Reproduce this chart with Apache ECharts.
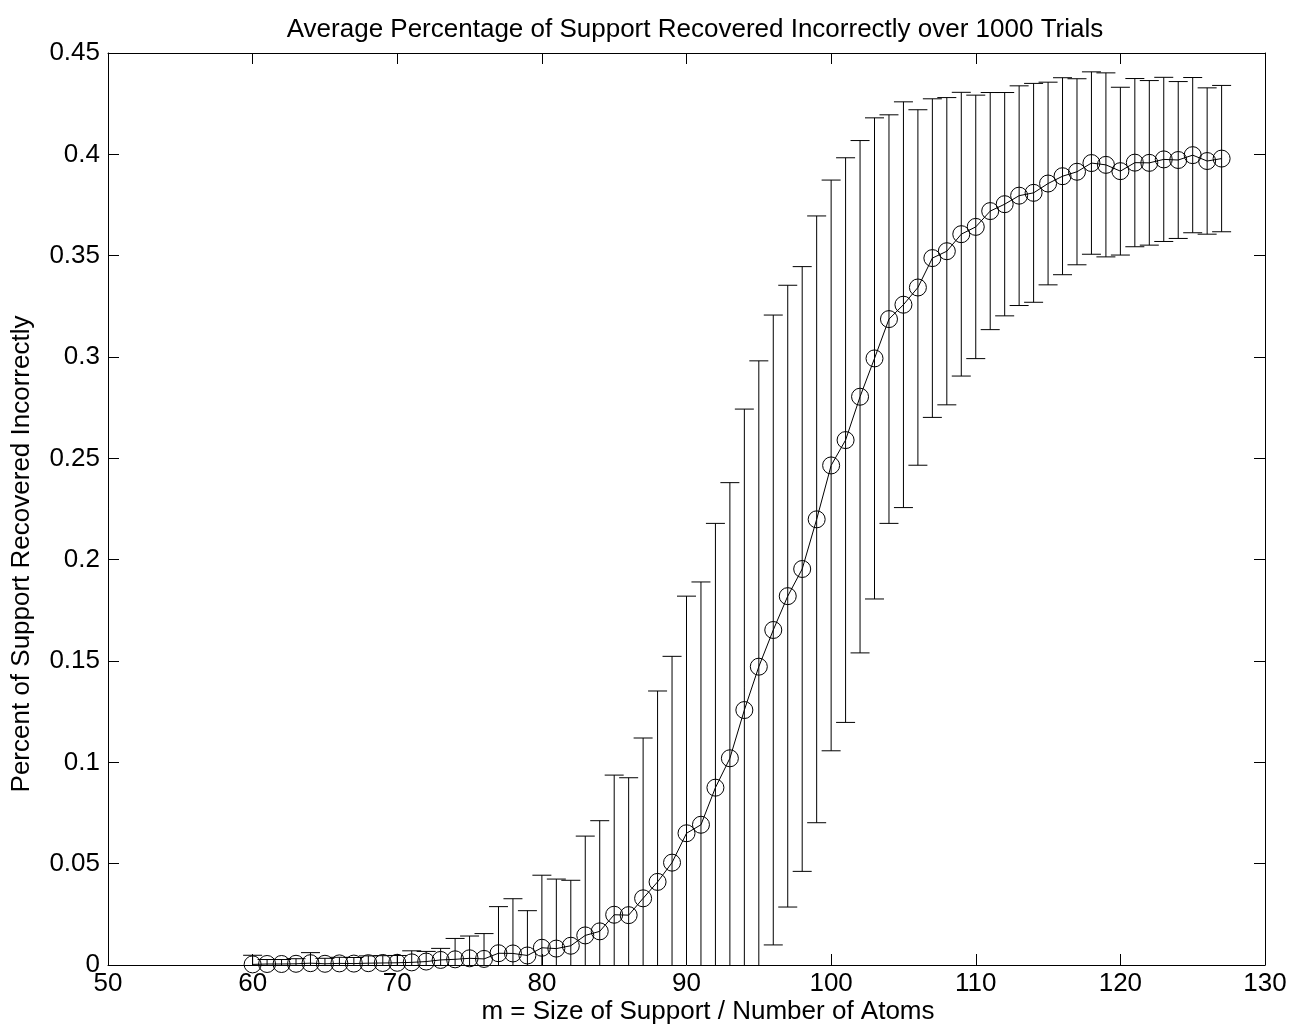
<!DOCTYPE html>
<html>
<head>
<meta charset="utf-8">
<script src="https://cdn.jsdelivr.net/npm/echarts@6/dist/echarts.min.js"></script>
<style>
html,body{margin:0;padding:0;background:#fff;}
#chart{width:1291px;height:1034px;}
</style>
</head>
<body>
<div id="chart"></div>
<script>
const titleText = 'Average Percentage of Support Recovered Incorrectly over 1000 Trials';
const xAxisName = 'm = Size of Support / Number of Atoms';
const yAxisName = 'Percent of Support Recovered Incorrectly';

const xValues = [60,61,62,63,64,65,66,67,68,69,70,71,72,73,74,75,76,77,78,79,
  80,81,82,83,84,85,86,87,88,89,90,91,92,93,94,95,96,97,98,99,
  100,101,102,103,104,105,106,107,108,109,110,111,112,113,114,115,116,117,118,119,
  120,121,122,123,124,125,126,127];

const meanValues = [0.0003,0.0005,0.0005,0.0006,0.0009,0.0006,0.0008,0.0007,0.0009,0.0010,
  0.0011,0.0013,0.0017,0.0025,0.0028,0.0033,0.0030,0.0058,0.0057,0.0047,
  0.0085,0.0081,0.0095,0.0146,0.0166,0.0248,0.0246,0.0329,0.0410,0.0505,
  0.0650,0.0692,0.0875,0.1020,0.1258,0.1472,0.1653,0.1820,0.1954,0.2199,
  0.2465,0.2590,0.2804,0.2993,0.3187,0.3258,0.3343,0.3488,0.3522,0.3606,
  0.3642,0.3720,0.3754,0.3796,0.3810,0.3856,0.3892,0.3914,0.3957,0.3948,
  0.3917,0.3959,0.3958,0.3975,0.3972,0.3996,0.3967,0.3979];

const errValues = [0.0045,0.0022,0.0022,0.0025,0.0052,0.0027,0.0030,0.0030,0.0036,0.0036,
  0.0036,0.0057,0.0050,0.0057,0.0103,0.0110,0.0125,0.0230,0.0270,0.0221,
  0.0358,0.0343,0.0323,0.0490,0.0546,0.0689,0.0678,0.0791,0.0942,0.1018,
  0.1170,0.1198,0.1304,0.1360,0.1485,0.1509,0.1554,0.1534,0.1492,0.1497,
  0.1408,0.1393,0.1264,0.1187,0.1008,0.1001,0.0877,0.0786,0.0758,0.0700,
  0.0650,0.0585,0.0551,0.0542,0.0540,0.0500,0.0486,0.0459,0.0450,0.0454,
  0.0414,0.0415,0.0406,0.0405,0.0387,0.0383,0.0361,0.0361];

const xMin = 50, xMax = 130, xStep = 10;
const yMin = 0, yMax = 0.45, yStep = 0.05;

const FONT = "'Liberation Sans', Arial, Helvetica, sans-serif";
const FS = 26;
const chart = echarts.init(document.getElementById('chart'), null, {renderer:'canvas'});

const lineData = xValues.map((x,i)=>[x, meanValues[i]]);
const errData = xValues.map((x,i)=>[x, meanValues[i], errValues[i]]);

const CAP = 9.5;
function renderErr(params, api){
  const x = api.value(0), m = api.value(1), e = api.value(2);
  const hi = m + e;
  const loRaw = m - e;
  const lo = Math.max(yMin, loRaw);
  const pHi = api.coord([x, hi]);
  const pLo = api.coord([x, lo]);
  const style = {stroke:'#000', lineWidth:1, fill:null};
  const children = [
    {type:'line', shape:{x1:pHi[0], y1:pHi[1], x2:pLo[0], y2:pLo[1]}, style:style},
    {type:'line', shape:{x1:pHi[0]-CAP, y1:pHi[1], x2:pHi[0]+CAP, y2:pHi[1]}, style:style}
  ];
  if (loRaw >= yMin) {
    children.push({type:'line', shape:{x1:pLo[0]-CAP, y1:pLo[1], x2:pLo[0]+CAP, y2:pLo[1]}, style:style});
  }
  return {type:'group', children:children};
}

const axisCommon = {
  axisLine:{show:true, onZero:false, lineStyle:{color:'#000', width:1}},
  axisTick:{show:true, inside:true, length:11, lineStyle:{color:'#000', width:1}},
  splitLine:{show:false},
};

const option = {
  backgroundColor:'#fff',
  animation:false,
  title:{
    text:titleText,
    left:690, top:12, textAlign:'center',
    textStyle:{fontFamily:FONT, fontSize:FS, fontWeight:'normal', color:'#000'}
  },
  graphic:[
    {type:'text', x:708, y:1012, silent:true,
      style:{text:xAxisName, fontFamily:FONT, fontSize:FS, fill:'#000', align:'center', verticalAlign:'middle'}},
    {type:'text', x:22, y:554, rotation:Math.PI/2, silent:true,
      style:{text:yAxisName, fontFamily:FONT, fontSize:FS, fill:'#000', align:'center', verticalAlign:'middle'}}
  ],
  grid:{left:108, right:26, top:53, bottom:69, containLabel:false},
  xAxis:[
    Object.assign({}, axisCommon, {
      type:'value', min:xMin, max:xMax, interval:xStep, position:'bottom',
      axisLabel:{show:true, margin:6, fontFamily:FONT, fontSize:FS, color:'#000'}
    }),
    Object.assign({}, axisCommon, {
      type:'value', min:xMin, max:xMax, interval:xStep, position:'top',
      axisLabel:{show:false}
    })
  ],
  yAxis:[
    Object.assign({}, axisCommon, {
      type:'value', min:yMin, max:yMax, interval:yStep, position:'left',
      axisLabel:{show:true, margin:8, fontFamily:FONT, fontSize:FS, color:'#000',
        formatter:function(v){ return String(Math.round(v*100)/100); }}
    }),
    Object.assign({}, axisCommon, {
      type:'value', min:yMin, max:yMax, interval:yStep, position:'right',
      axisLabel:{show:false}
    })
  ],
  series:[
    {
      type:'custom', xAxisIndex:0, yAxisIndex:0,
      renderItem:renderErr,
      encode:{x:0, y:1},
      data:errData, z:2, silent:true
    },
    {
      type:'line', xAxisIndex:0, yAxisIndex:0,
      data:lineData,
      symbol:'circle', symbolSize:17, showSymbol:true,
      lineStyle:{color:'#000', width:1},
      itemStyle:{color:'rgba(0,0,0,0)', borderColor:'#000', borderWidth:1},
      z:3, silent:true
    }
  ]
};
chart.setOption(option);
</script>
</body>
</html>
